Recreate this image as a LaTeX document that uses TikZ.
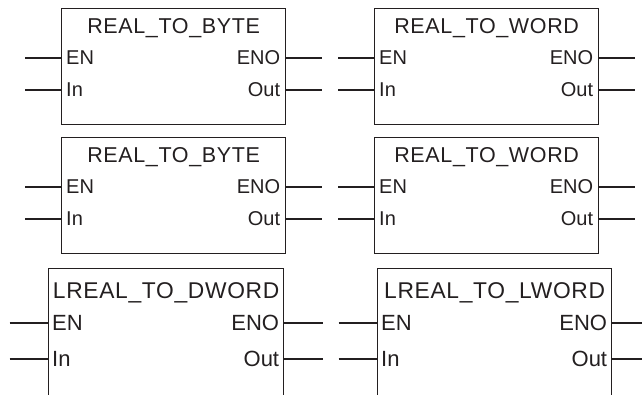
\documentclass[tikz,border=0pt]{standalone}
\usepackage{fontspec}
\setmainfont{Liberation Sans}
\newfontfamily\blockfont[LetterSpace=3]{Liberation Sans}
\usetikzlibrary{positioning,calc}
\definecolor{ink}{HTML}{231F20}

\tikzset{
  fbox/.style={draw=ink, line width=1.3pt, minimum width=#1,
    minimum height=\boxh, inner sep=0pt, anchor=north west},
  ftitle/.style={ink, inner sep=0pt, anchor=base,
    font=\blockfont\fontsize{\tsize}{\tsize}\selectfont},
  pin/.style={ink, inner sep=0pt, font=\fontsize{\psize}{\psize}\selectfont},
  lead/.style={ink, line width=1.2pt},
}

% function block: name, left, top, width, title
\newcommand{\fblock}[5]{%
  \node[fbox=#4] (#1) at (#2,#3) {};
  \node[ftitle] (#1-t) at ($(#1.north)+(0,\tdy)$) {#5};
  \node[pin, anchor=west] (#1-en) at ($(#1.north west)+(\pdx,\endy)$) {EN};
  \node[pin, anchor=west] (#1-in) at ($(#1.north west)+(\pdx,\indy)$) {In};
  \node[pin, anchor=east] (#1-eno) at ($(#1.north east)+(-\qdx,\endy)$) {ENO};
  \node[pin, anchor=east] (#1-out) at ($(#1.north east)+(-\qdx,\indy)$) {Out};
  \coordinate (#1-enl) at ($(#1.west |- #1-en)+(-\lead,0)$);
  \coordinate (#1-inl) at ($(#1.west |- #1-in)+(-\lead,0)$);
  \coordinate (#1-enor) at ($(#1.east |- #1-eno)+(\lead,0)$);
  \coordinate (#1-outr) at ($(#1.east |- #1-out)+(\lead,0)$);
  \draw[lead] (#1-enl) -- (#1.west |- #1-en);
  \draw[lead] (#1-inl) -- (#1.west |- #1-in);
  \draw[lead] (#1.east |- #1-eno) -- (#1-enor);
  \draw[lead] (#1.east |- #1-out) -- (#1-outr);
}

\begin{document}
\begin{tikzpicture}[x=1pt, y=-1pt]
  \useasboundingbox (0,0) rectangle (642,395);
  \clip (0,0) rectangle (642,395);

  % Upper two rows
  \def\boxh{116}\def\tdy{26}\def\endy{50}\def\indy{82}
  \def\pdx{5}\def\qdx{6}\def\lead{36}\def\tsize{21.5}\def\psize{20}
  \fblock{byteA}{61}{8}{224}{REAL\_TO\_BYTE}
  \fblock{wordA}{374}{8}{224}{REAL\_TO\_WORD}
  \fblock{byteB}{61}{137}{224}{REAL\_TO\_BYTE}
  \fblock{wordB}{374}{137}{224}{REAL\_TO\_WORD}

  % Bottom row (cut off by the page edge)
  \def\boxh{200}\def\tdy{30}\def\endy{55}\def\indy{91}
  \def\pdx{4}\def\qdx{5}\def\lead{38.5}\def\tsize{22.8}\def\psize{22}
  \fblock{dword}{48}{268}{235}{LREAL\_TO\_DWORD}
  \fblock{lword}{377}{268}{234}{LREAL\_TO\_LWORD}
\end{tikzpicture}
\end{document}
